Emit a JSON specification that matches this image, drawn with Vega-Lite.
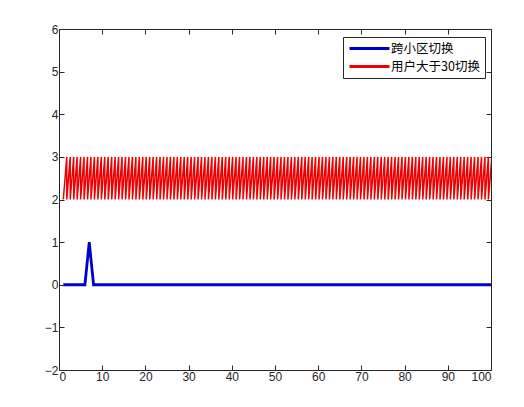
{
  "$schema": "https://vega.github.io/schema/vega-lite/v6.json",
  "width": 432,
  "height": 341,
  "autosize": {"type": "none"},
  "padding": {"left": 59, "top": 29, "right": 33, "bottom": 37},
  "background": "#ffffff",
  "config": {
    "view": {"stroke": "#262626", "strokeWidth": 1},
    "axis": {
      "grid": false,
      "labelFont": "Liberation Sans",
      "labelFontSize": 12,
      "labelColor": "#262626",
      "tickColor": "#262626",
      "domainColor": "#262626",
      "tickSize": -5,
      "labelPadding": 6,
      "title": null
    }
  },
  "datasets": {
    "blue": [
      {"x":1,"y":0},{"x":2,"y":0},{"x":3,"y":0},{"x":4,"y":0},{"x":5,"y":0},{"x":6,"y":0},{"x":7,"y":1},{"x":8,"y":0},{"x":9,"y":0},{"x":10,"y":0},
      {"x":11,"y":0},{"x":12,"y":0},{"x":13,"y":0},{"x":14,"y":0},{"x":15,"y":0},{"x":16,"y":0},{"x":17,"y":0},{"x":18,"y":0},{"x":19,"y":0},{"x":20,"y":0},
      {"x":21,"y":0},{"x":22,"y":0},{"x":23,"y":0},{"x":24,"y":0},{"x":25,"y":0},{"x":26,"y":0},{"x":27,"y":0},{"x":28,"y":0},{"x":29,"y":0},{"x":30,"y":0},
      {"x":31,"y":0},{"x":32,"y":0},{"x":33,"y":0},{"x":34,"y":0},{"x":35,"y":0},{"x":36,"y":0},{"x":37,"y":0},{"x":38,"y":0},{"x":39,"y":0},{"x":40,"y":0},
      {"x":41,"y":0},{"x":42,"y":0},{"x":43,"y":0},{"x":44,"y":0},{"x":45,"y":0},{"x":46,"y":0},{"x":47,"y":0},{"x":48,"y":0},{"x":49,"y":0},{"x":50,"y":0},
      {"x":51,"y":0},{"x":52,"y":0},{"x":53,"y":0},{"x":54,"y":0},{"x":55,"y":0},{"x":56,"y":0},{"x":57,"y":0},{"x":58,"y":0},{"x":59,"y":0},{"x":60,"y":0},
      {"x":61,"y":0},{"x":62,"y":0},{"x":63,"y":0},{"x":64,"y":0},{"x":65,"y":0},{"x":66,"y":0},{"x":67,"y":0},{"x":68,"y":0},{"x":69,"y":0},{"x":70,"y":0},
      {"x":71,"y":0},{"x":72,"y":0},{"x":73,"y":0},{"x":74,"y":0},{"x":75,"y":0},{"x":76,"y":0},{"x":77,"y":0},{"x":78,"y":0},{"x":79,"y":0},{"x":80,"y":0},
      {"x":81,"y":0},{"x":82,"y":0},{"x":83,"y":0},{"x":84,"y":0},{"x":85,"y":0},{"x":86,"y":0},{"x":87,"y":0},{"x":88,"y":0},{"x":89,"y":0},{"x":90,"y":0},
      {"x":91,"y":0},{"x":92,"y":0},{"x":93,"y":0},{"x":94,"y":0},{"x":95,"y":0},{"x":96,"y":0},{"x":97,"y":0},{"x":98,"y":0},{"x":99,"y":0},{"x":100,"y":0}
    ],
    "red": [
      {"x":1,"y":2},
      {"x":1.8,"y":3},{"x":1.8,"y":2},{"x":2.6,"y":3},{"x":2.6,"y":2},{"x":3.4,"y":3},{"x":3.4,"y":2},{"x":4.2,"y":3},{"x":4.2,"y":2},
      {"x":5,"y":3},{"x":5,"y":2},{"x":5.8,"y":3},{"x":5.8,"y":2},{"x":6.6,"y":3},{"x":6.6,"y":2},{"x":7.4,"y":3},{"x":7.4,"y":2},{"x":8.2,"y":3},{"x":8.2,"y":2},
      {"x":9,"y":3},{"x":9,"y":2},{"x":9.8,"y":3},{"x":9.8,"y":2},{"x":10.6,"y":3},{"x":10.6,"y":2},{"x":11.4,"y":3},{"x":11.4,"y":2},{"x":12.2,"y":3},{"x":12.2,"y":2},
      {"x":13,"y":3},{"x":13,"y":2},{"x":13.8,"y":3},{"x":13.8,"y":2},{"x":14.6,"y":3},{"x":14.6,"y":2},{"x":15.4,"y":3},{"x":15.4,"y":2},{"x":16.2,"y":3},{"x":16.2,"y":2},
      {"x":17,"y":3},{"x":17,"y":2},{"x":17.8,"y":3},{"x":17.8,"y":2},{"x":18.6,"y":3},{"x":18.6,"y":2},{"x":19.4,"y":3},{"x":19.4,"y":2},{"x":20.2,"y":3},{"x":20.2,"y":2},
      {"x":21,"y":3},{"x":21,"y":2},{"x":21.8,"y":3},{"x":21.8,"y":2},{"x":22.6,"y":3},{"x":22.6,"y":2},{"x":23.4,"y":3},{"x":23.4,"y":2},{"x":24.2,"y":3},{"x":24.2,"y":2},
      {"x":25,"y":3},{"x":25,"y":2},{"x":25.8,"y":3},{"x":25.8,"y":2},{"x":26.6,"y":3},{"x":26.6,"y":2},{"x":27.4,"y":3},{"x":27.4,"y":2},{"x":28.2,"y":3},{"x":28.2,"y":2},
      {"x":29,"y":3},{"x":29,"y":2},{"x":29.8,"y":3},{"x":29.8,"y":2},{"x":30.6,"y":3},{"x":30.6,"y":2},{"x":31.4,"y":3},{"x":31.4,"y":2},{"x":32.2,"y":3},{"x":32.2,"y":2},
      {"x":33,"y":3},{"x":33,"y":2},{"x":33.8,"y":3},{"x":33.8,"y":2},{"x":34.6,"y":3},{"x":34.6,"y":2},{"x":35.4,"y":3},{"x":35.4,"y":2},{"x":36.2,"y":3},{"x":36.2,"y":2},
      {"x":37,"y":3},{"x":37,"y":2},{"x":37.8,"y":3},{"x":37.8,"y":2},{"x":38.6,"y":3},{"x":38.6,"y":2},{"x":39.4,"y":3},{"x":39.4,"y":2},{"x":40.2,"y":3},{"x":40.2,"y":2},
      {"x":41,"y":3},{"x":41,"y":2},{"x":41.8,"y":3},{"x":41.8,"y":2},{"x":42.6,"y":3},{"x":42.6,"y":2},{"x":43.4,"y":3},{"x":43.4,"y":2},{"x":44.2,"y":3},{"x":44.2,"y":2},
      {"x":45,"y":3},{"x":45,"y":2},{"x":45.8,"y":3},{"x":45.8,"y":2},{"x":46.6,"y":3},{"x":46.6,"y":2},{"x":47.4,"y":3},{"x":47.4,"y":2},{"x":48.2,"y":3},{"x":48.2,"y":2},
      {"x":49,"y":3},{"x":49,"y":2},{"x":49.8,"y":3},{"x":49.8,"y":2},{"x":50.6,"y":3},{"x":50.6,"y":2},{"x":51.4,"y":3},{"x":51.4,"y":2},{"x":52.2,"y":3},{"x":52.2,"y":2},
      {"x":53,"y":3},{"x":53,"y":2},{"x":53.8,"y":3},{"x":53.8,"y":2},{"x":54.6,"y":3},{"x":54.6,"y":2},{"x":55.4,"y":3},{"x":55.4,"y":2},{"x":56.2,"y":3},{"x":56.2,"y":2},
      {"x":57,"y":3},{"x":57,"y":2},{"x":57.8,"y":3},{"x":57.8,"y":2},{"x":58.6,"y":3},{"x":58.6,"y":2},{"x":59.4,"y":3},{"x":59.4,"y":2},{"x":60.2,"y":3},{"x":60.2,"y":2},
      {"x":61,"y":3},{"x":61,"y":2},{"x":61.8,"y":3},{"x":61.8,"y":2},{"x":62.6,"y":3},{"x":62.6,"y":2},{"x":63.4,"y":3},{"x":63.4,"y":2},{"x":64.2,"y":3},{"x":64.2,"y":2},
      {"x":65,"y":3},{"x":65,"y":2},{"x":65.8,"y":3},{"x":65.8,"y":2},{"x":66.6,"y":3},{"x":66.6,"y":2},{"x":67.4,"y":3},{"x":67.4,"y":2},{"x":68.2,"y":3},{"x":68.2,"y":2},
      {"x":69,"y":3},{"x":69,"y":2},{"x":69.8,"y":3},{"x":69.8,"y":2},{"x":70.6,"y":3},{"x":70.6,"y":2},{"x":71.4,"y":3},{"x":71.4,"y":2},{"x":72.2,"y":3},{"x":72.2,"y":2},
      {"x":73,"y":3},{"x":73,"y":2},{"x":73.8,"y":3},{"x":73.8,"y":2},{"x":74.6,"y":3},{"x":74.6,"y":2},{"x":75.4,"y":3},{"x":75.4,"y":2},{"x":76.2,"y":3},{"x":76.2,"y":2},
      {"x":77,"y":3},{"x":77,"y":2},{"x":77.8,"y":3},{"x":77.8,"y":2},{"x":78.6,"y":3},{"x":78.6,"y":2},{"x":79.4,"y":3},{"x":79.4,"y":2},{"x":80.2,"y":3},{"x":80.2,"y":2},
      {"x":81,"y":3},{"x":81,"y":2},{"x":81.8,"y":3},{"x":81.8,"y":2},{"x":82.6,"y":3},{"x":82.6,"y":2},{"x":83.4,"y":3},{"x":83.4,"y":2},{"x":84.2,"y":3},{"x":84.2,"y":2},
      {"x":85,"y":3},{"x":85,"y":2},{"x":85.8,"y":3},{"x":85.8,"y":2},{"x":86.6,"y":3},{"x":86.6,"y":2},{"x":87.4,"y":3},{"x":87.4,"y":2},{"x":88.2,"y":3},{"x":88.2,"y":2},
      {"x":89,"y":3},{"x":89,"y":2},{"x":89.8,"y":3},{"x":89.8,"y":2},{"x":90.6,"y":3},{"x":90.6,"y":2},{"x":91.4,"y":3},{"x":91.4,"y":2},{"x":92.2,"y":3},{"x":92.2,"y":2},
      {"x":93,"y":3},{"x":93,"y":2},{"x":93.8,"y":3},{"x":93.8,"y":2},{"x":94.6,"y":3},{"x":94.6,"y":2},{"x":95.4,"y":3},{"x":95.4,"y":2},{"x":96.2,"y":3},{"x":96.2,"y":2},
      {"x":97,"y":3},{"x":97,"y":2},{"x":97.8,"y":3},{"x":97.8,"y":2},{"x":98.6,"y":3},{"x":98.6,"y":2},{"x":99.4,"y":3},{"x":99.4,"y":2},{"x":100.2,"y":3},{"x":100.2,"y":2}
    ]
  },
  "resolve": {"axis": {"x": "independent", "y": "independent"}},
  "layer": [
    {
      "data": {"name": "red"},
      "mark": {"type": "line", "strokeWidth": 1.5, "clip": true, "strokeJoin": "miter"},
      "encoding": {
        "x": {"field": "x", "type": "quantitative", "scale": {"domain": [0, 100], "nice": false}, "axis": {"orient": "bottom", "values": [0,10,20,30,40,50,60,70,80,90,100]}},
        "y": {"field": "y", "type": "quantitative", "scale": {"domain": [-2, 6], "nice": false}, "axis": {"orient": "left", "values": [-2,-1,0,1,2,3,4,5,6]}},
        "order": {"value": null},
        "color": {
          "datum": "用户大于30切换",
          "type": "nominal",
          "scale": {"domain": ["跨小区切换", "用户大于30切换"], "range": ["#0000cc", "#ee0000"]},
          "legend": {
            "title": null,
            "orient": "none",
            "legendX": 284,
            "legendY": 8,
            "symbolType": "M-4,0H4",
            "symbolSize": 100,
            "symbolOffset": 15,
            "symbolStrokeWidth": 3,
            "labelFont": "Noto Sans CJK SC",
            "labelFontSize": 12.5,
            "labelColor": "#000000",
            "labelOffset": 15,
            "strokeColor": "#262626",
            "fillColor": "#ffffff",
            "padding": 5,
            "rowPadding": 5
          }
        }
      }
    },
    {
      "data": {"name": "blue"},
      "mark": {"type": "line", "strokeWidth": 2.8},
      "encoding": {
        "x": {"field": "x", "type": "quantitative", "scale": {"domain": [0, 100], "nice": false}, "axis": {"orient": "top", "labels": false, "domain": false, "values": [0,10,20,30,40,50,60,70,80,90,100]}},
        "y": {"field": "y", "type": "quantitative", "scale": {"domain": [-2, 6], "nice": false}, "axis": {"orient": "right", "labels": false, "domain": false, "values": [-2,-1,0,1,2,3,4,5,6]}},
        "color": {"datum": "跨小区切换", "type": "nominal"}
      }
    }
  ]
}
